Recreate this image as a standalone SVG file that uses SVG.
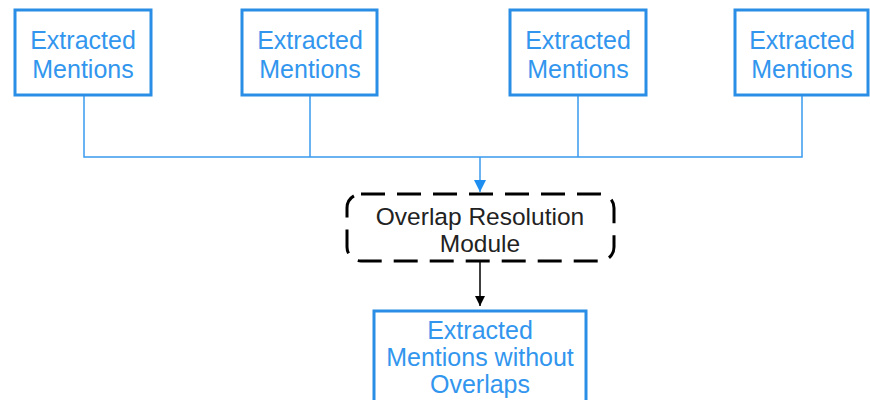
<svg xmlns="http://www.w3.org/2000/svg" width="870" height="400" viewBox="0 0 870 400">
<defs>
<style>
.box{fill:#fff;stroke:#2b8ee6;stroke-width:3}
.bt{font-family:"Liberation Sans",Arial,sans-serif;font-size:25px;fill:#3296ee;text-anchor:middle}
.mt{font-family:"Liberation Sans",Arial,sans-serif;font-size:24.5px;fill:#222;text-anchor:middle}
.wire{fill:none;stroke:#3a9bf0;stroke-width:1.5}
</style>
<marker id="ab" viewBox="0 0 10 10" refX="10" refY="5" markerWidth="16" markerHeight="12" markerUnits="userSpaceOnUse" orient="auto"><path d="M0,0 L10,5 L0,10 z" fill="#1e8ef0"/></marker>
<marker id="ak" viewBox="0 0 10 10" refX="10" refY="5" markerWidth="13" markerHeight="10" markerUnits="userSpaceOnUse" orient="auto"><path d="M0,0 L10,5 L0,10 z" fill="#000"/></marker>
</defs>
<rect width="870" height="400" fill="#fff"/>
<g id="connectors">
<path class="wire" d="M84,95 V157 H802 V95 M310,95 V157 M578,95 V157"/>
<path class="wire" d="M480,157 V192" marker-end="url(#ab)"/>
<path d="M480,262 V306" fill="none" stroke="#000" stroke-width="1.5" marker-end="url(#ak)"/>
</g>
<g id="n1"><rect class="box" x="15" y="10" width="136" height="85"/><text class="bt" x="83" y="49">Extracted</text><text class="bt" x="83" y="78">Mentions</text></g>
<g id="n2"><rect class="box" x="242" y="10" width="135" height="85"/><text class="bt" x="310" y="49">Extracted</text><text class="bt" x="310" y="78">Mentions</text></g>
<g id="n3"><rect class="box" x="510" y="10" width="136" height="85"/><text class="bt" x="578" y="49">Extracted</text><text class="bt" x="578" y="78">Mentions</text></g>
<g id="n4"><rect class="box" x="735" y="10" width="133" height="85"/><text class="bt" x="802" y="49">Extracted</text><text class="bt" x="802" y="78">Mentions</text></g>
<g id="module"><rect x="347" y="194" width="267" height="67" rx="14" fill="#fff" stroke="#000" stroke-width="3" stroke-dasharray="24,12"/><text class="mt" x="480" y="225">Overlap Resolution</text><text class="mt" x="480" y="252">Module</text></g>
<g id="out"><rect class="box" x="374" y="311" width="212" height="100"/><text class="bt" x="480" y="339">Extracted</text><text class="bt" x="480" y="366">Mentions without</text><text class="bt" x="480" y="393">Overlaps</text></g>
</svg>
